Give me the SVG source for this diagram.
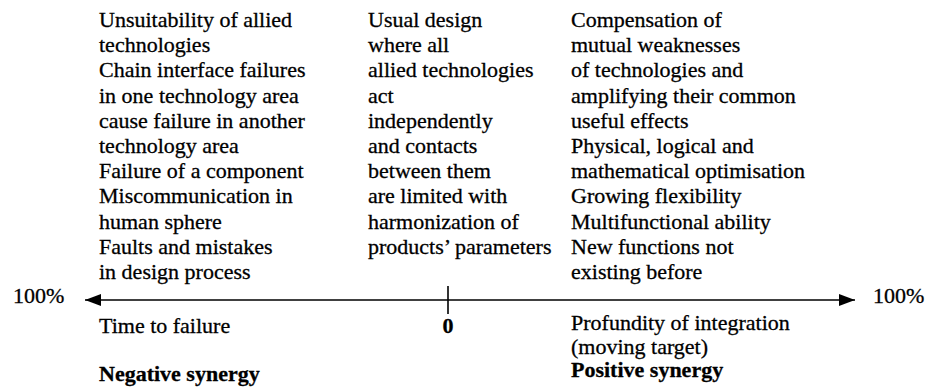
<svg xmlns="http://www.w3.org/2000/svg" width="927" height="391" viewBox="0 0 927 391" font-family="Liberation Serif, Times New Roman, serif">
<style>
text{font-family:'Liberation Serif','Times New Roman',serif;font-size:22px;fill:#000;stroke:#000;stroke-width:0.3}
.b{font-weight:bold}
.ax{stroke:#000;stroke-width:1.6;fill:none}
</style>
<defs>
<marker id="ah" viewBox="0 0 16 12" refX="16" refY="6" markerWidth="16" markerHeight="12" markerUnits="userSpaceOnUse" orient="auto-start-reverse">
<path d="M0,0 L16,6 L0,12 Z" fill="#000"/>
</marker>
</defs>
<rect width="927" height="391" fill="#fff"/>
<g id="negative-causes">
<text x="99" y="27">Unsuitability of allied</text>
<text x="99" y="52">technologies</text>
<text x="99" y="77">Chain interface failures</text>
<text x="99" y="103">in one technology area</text>
<text x="99" y="128">cause failure in another</text>
<text x="99" y="153">technology area</text>
<text x="99" y="178">Failure of a component</text>
<text x="99" y="203">Miscommunication in</text>
<text x="99" y="229">human sphere</text>
<text x="99" y="254">Faults and mistakes</text>
<text x="99" y="279">in design process</text>
</g>
<g id="usual-design">
<text x="368" y="27">Usual design</text>
<text x="368" y="52">where all</text>
<text x="368" y="77">allied technologies</text>
<text x="368" y="103">act</text>
<text x="368" y="128">independently</text>
<text x="368" y="153">and contacts</text>
<text x="368" y="178">between them</text>
<text x="368" y="203">are limited with</text>
<text x="368" y="229">harmonization of</text>
<text x="368" y="254">products’ parameters</text>
</g>
<g id="positive-effects">
<text x="571" y="27">Compensation of</text>
<text x="571" y="52">mutual weaknesses</text>
<text x="571" y="77">of technologies and</text>
<text x="571" y="103">amplifying their common</text>
<text x="571" y="128">useful effects</text>
<text x="571" y="153">Physical, logical and</text>
<text x="571" y="178">mathematical optimisation</text>
<text x="571" y="203">Growing flexibility</text>
<text x="571" y="229">Multifunctional ability</text>
<text x="571" y="254">New functions not</text>
<text x="571" y="279">existing before</text>
</g>
<g id="left-end"><text x="13" y="303">100%</text></g>
<g id="right-end"><text x="873" y="303">100%</text></g>
<g id="negative-label">
<text x="99" y="333">Time to failure</text>
<text x="99" y="381" class="b">Negative synergy</text>
</g>
<g id="zero"><text x="448" y="333" class="b" text-anchor="middle">0</text></g>
<g id="positive-label">
<text x="571" y="330">Profundity of integration</text>
<text x="571" y="354">(moving target)</text>
<text x="571" y="377" class="b">Positive synergy</text>
</g>
<g id="connectors">
<line class="ax" x1="448" y1="300" x2="85" y2="300" marker-end="url(#ah)"/>
<line class="ax" x1="448" y1="300" x2="855" y2="300" marker-end="url(#ah)"/>
<line class="ax" x1="448" y1="286" x2="448" y2="314" stroke-width="2"/>
</g>
</svg>
